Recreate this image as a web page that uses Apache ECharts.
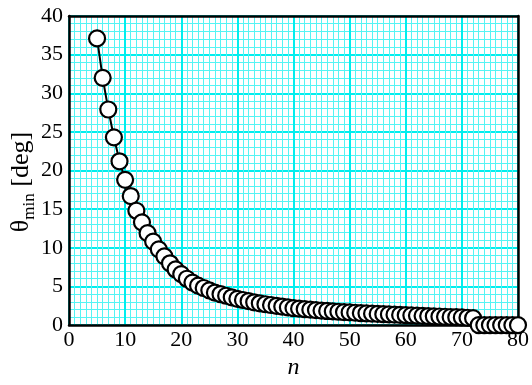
<!DOCTYPE html>
<html>
<head>
<meta charset="utf-8">
<script src="https://cdn.jsdelivr.net/npm/echarts@6/dist/echarts.min.js"></script>
<style>
  html, body { margin: 0; padding: 0; background: #fff; }
  #chart { width: 532px; height: 385px; }
</style>
</head>
<body>
<div id="chart"></div>
<script>
// Number of elements n and the minimum angle (degrees) for each n
const nValues = [
  5, 6, 7, 8, 9, 10, 11, 12, 13, 14, 15, 16, 17, 18, 19, 20,
  21, 22, 23, 24, 25, 26, 27, 28, 29, 30, 31, 32, 33, 34, 35, 36,
  37, 38, 39, 40, 41, 42, 43, 44, 45, 46, 47, 48, 49, 50, 51, 52,
  53, 54, 55, 56, 57, 58, 59, 60, 61, 62, 63, 64, 65, 66, 67, 68,
  69, 70, 71, 72, 73, 74, 75, 76, 77, 78, 79, 80
];
const thetaMin = [
  37.1, 32.0, 27.9, 24.3, 21.2, 18.8, 16.7, 14.8, 13.3, 11.9, 10.8, 9.8, 8.9, 8.0, 7.2, 6.6,
  6.0, 5.5, 5.1, 4.8, 4.5, 4.2, 4.0, 3.8, 3.6, 3.4, 3.25, 3.1, 2.95, 2.82, 2.7, 2.6,
  2.5, 2.4, 2.3, 2.2, 2.13, 2.06, 2.0, 1.94, 1.88, 1.83, 1.78, 1.73, 1.68, 1.64, 1.6, 1.56,
  1.52, 1.48, 1.45, 1.42, 1.38, 1.35, 1.32, 1.29, 1.26, 1.23, 1.2, 1.17, 1.14, 1.11, 1.08, 1.05,
  1.02, 0.99, 0.95, 0.9, 0, 0, 0, 0, 0, 0, 0, 0
];

// Axis tick labels
const xTicks = [0, 10, 20, 30, 40, 50, 60, 70, 80];
const yTicks = [0, 5, 10, 15, 20, 25, 30, 35, 40];

const serif = "'Liberation Serif', 'Times New Roman', serif";
const seriesData = nValues.map((n, i) => [n, thetaMin[i]]);

const chart = echarts.init(document.getElementById('chart'), null, { renderer: 'canvas' });

const majorLine = () => ({ show: true, lineStyle: { color: '#00eeee', width: 2 } });
const minorLine = () => ({ show: true, lineStyle: { color: '#55f4f4', width: 1 } });

// plain black line used for the frame around the plot
const frameAxis = (position) => ({
  type: 'value', position: position, z: 3,
  axisLine: { show: true, onZero: false, lineStyle: { color: '#000', width: 2.5 } },
  axisTick: { show: false }, axisLabel: { show: false }, splitLine: { show: false }
});

chart.setOption({
  animation: false,
  backgroundColor: '#fff',
  grid: { left: 69, right: 14, top: 16, bottom: 43, containLabel: false },
  xAxis: [
    {
      type: 'value',
      min: xTicks[0],
      max: xTicks[xTicks.length - 1],
      interval: xTicks[1] - xTicks[0],
      z: 0,
      axisLine: { show: false },
      axisTick: { show: false },
      axisLabel: { margin: 4, color: '#000', fontFamily: serif, fontSize: 22 },
      splitLine: majorLine(),
      minorTick: { show: false, splitNumber: 10 },
      minorSplitLine: minorLine(),
      name: 'n',
      nameLocation: 'middle',
      nameGap: 20,
      nameTextStyle: { color: '#000', fontFamily: serif, fontStyle: 'italic', fontSize: 24 }
    },
    Object.assign(frameAxis('bottom'), { min: xTicks[0], max: xTicks[xTicks.length - 1] }),
    Object.assign(frameAxis('top'), { min: xTicks[0], max: xTicks[xTicks.length - 1] })
  ],
  yAxis: [
    {
      type: 'value',
      min: yTicks[0],
      max: yTicks[yTicks.length - 1],
      interval: yTicks[1] - yTicks[0],
      z: 0,
      axisLine: { show: false },
      axisTick: { show: false },
      axisLabel: { margin: 6, color: '#000', fontFamily: serif, fontSize: 22 },
      splitLine: majorLine(),
      minorTick: { show: false, splitNumber: 5 },
      minorSplitLine: minorLine()
    },
    Object.assign(frameAxis('left'), { min: yTicks[0], max: yTicks[yTicks.length - 1] }),
    Object.assign(frameAxis('right'), { min: yTicks[0], max: yTicks[yTicks.length - 1] })
  ],
  graphic: [
    {
      type: 'text',
      x: 21,
      y: 182,
      rotation: Math.PI / 2,
      style: {
        text: '{t|θ}{s|min}{t| [deg]}',
        align: 'center',
        verticalAlign: 'middle',
        fill: '#000',
        rich: {
          t: { fontFamily: serif, fontSize: 26, lineHeight: 30, fill: '#000' },
          s: { fontFamily: serif, fontSize: 17, lineHeight: 16, padding: [18, 0, 0, 0], fill: '#000' }
        }
      },
      z: 10
    }
  ],
  series: [
    {
      type: 'line',
      xAxisIndex: 0,
      yAxisIndex: 0,
      data: seriesData,
      clip: false,
      z: 5,
      symbol: 'circle',
      symbolSize: 16,
      showAllSymbol: true,
      lineStyle: { color: '#000', width: 2 },
      itemStyle: { color: '#fff', borderColor: '#000', borderWidth: 2.2 }
    }
  ]
});
</script>
</body>
</html>
